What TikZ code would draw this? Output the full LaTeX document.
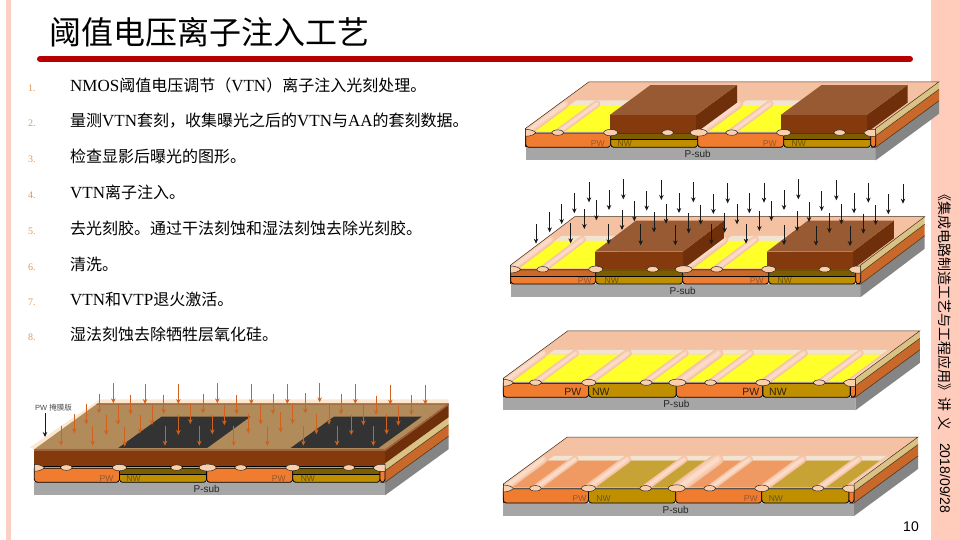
\documentclass[tikz,border=0pt]{standalone}
\usepackage{fontspec}
\setmainfont{Liberation Serif}
\newfontfamily\cjk{Noto Sans CJK SC}
\newfontfamily\sansf{Liberation Sans}
\usetikzlibrary{arrows.meta}
\definecolor{topF}{HTML}{F5C1A3}
\definecolor{bandF}{HTML}{F1E4D2}
\definecolor{stripeA}{HTML}{F5C1A3}
\definecolor{stripeM}{HTML}{F8CFB6}
\definecolor{stripeB}{HTML}{FBDCC8}
\definecolor{ovalF}{HTML}{FBCFAB}
\definecolor{yel}{HTML}{FFFF2A}
\definecolor{pwF}{HTML}{F07C30}
\definecolor{nwF}{HTML}{BF8F00}
\definecolor{pwT}{HTML}{EF9A62}
\definecolor{nwT}{HTML}{C7A335}
\definecolor{subF}{HTML}{A6A6A6}
\definecolor{subS}{HTML}{858585}
\definecolor{orS}{HTML}{C9682B}
\definecolor{tanS}{HTML}{D9C283}
\definecolor{resF}{HTML}{843A0C}
\definecolor{resT}{HTML}{985A33}
\definecolor{resS}{HTML}{6E2F0A}
\definecolor{maskT}{HTML}{B28B5A}
\definecolor{maskE}{HTML}{A0623C}
\definecolor{glass}{HTML}{FCE8D0}
\definecolor{ruleR}{HTML}{B80000}
\definecolor{side}{HTML}{FFCCBB}
\definecolor{leftbar}{HTML}{FBCFC3}
\definecolor{numC}{HTML}{E8954F}
\definecolor{arrO}{HTML}{D0621F}
\tikzset{
  wafer/.style n args={5}{shift={(#1,#2)},x={(#3pt,0pt)},y={(#4pt,#5pt)},z={(0pt,-1pt)}},
  edgeline/.style={draw=black!65!brown,line width=.5pt},
  ovalshape/.style={draw=black!85,fill=ovalF,line width=.5pt},
  bodytext/.style={anchor=base west,inner sep=0pt,font=\fontsize{17}{20}\selectfont},
  numtext/.style={anchor=base west,inner sep=0pt,text=numC,font=\fontsize{10}{11}\selectfont},
  wlabel/.style={inner sep=0pt,font=\sansf\fontsize{#1}{#1}\selectfont},
  ionB/.style={draw=black!90,line width=1pt,-{Stealth[length=5pt,width=4.5pt]}},
  ionO/.style={draw=arrO,line width=1pt,-{Stealth[length=5pt,width=4.5pt]}},
}
\newcommand\zh[1]{{\cjk\fontsize{16}{20}\selectfont #1}}
\newcommand\wbase{
  \fill[subF] (0,0,19)--(350,0,19)--(350,0,32)--(0,0,32)--cycle;
  \fill[subS] (350,0,19)--(350,1,19)--(350,1,32)--(350,0,32)--cycle;
  \fill[orS] (350,0,7.5)--(350,1,7.5)--(350,1,19)--(350,0,19)--cycle;
  \fill[tanS] (350,0,0)--(350,1,0)--(350,1,7.5)--(350,0,7.5)--cycle;
  \draw[edgeline] (350,0,7.5)--(350,1,7.5) (350,0,19)--(350,1,19);
}
\newcommand\wtop{
  \fill[topF] (0,0,4)--(0,0,0)--(0,1,0)--(350,1,0)--(350,0,0)--(350,0,4)--cycle;
}
\newcommand\wedges{
  \draw[edgeline] (0,0,0)--(0,1,0)--(350,1,0)--(350,0,0)--(350,0,19);
  \draw[edgeline] (0,0,0)--(0,0,19);
}
\newcommand\win[3]{\fill[#3] (#1,0,3.3)--(#2,0,3.3)--(#2,.57,3.3)--(#1,.57,3.3)--cycle;}
\newcommand\wband[2]{\fill[bandF] (#1,.57,3.3)--(#2,.57,3.3)--(#2,.67,3.3)--(#1,.67,3.3)--cycle;}
\newcommand\stripes[1]{
  \begin{scope}
  \clip (0,0,4)--(0,0,0)--(0,1,0)--(350,1,0)--(350,0,0)--(350,0,4)--cycle;
  \foreach \u/\w in {#1}{
    \draw[stripeA,line width=\w pt,line cap=round] (\u,0,4.3)--(\u,.62,4.3);
    \draw[stripeM,line width=.7*\w pt,line cap=round] (\u,0,4.3)--(\u,.62,4.3);
    \draw[stripeB,line width=.35*\w pt,line cap=round] (\u,0,4.3)--(\u,.62,4.3);
  }
  \end{scope}
}
\newcommand\well[5]{
  \fill[#3] (#1,0,4.8) {[rounded corners=3pt]-- (#1,0,19) -- (#2,0,19)} -- (#2,0,4.8) -- cycle;
  \fill[#4] (#1,0,4.8)--(#2,0,4.8)--(#2,0,11)--(#1,0,11)--cycle;
  \draw[draw=#5,line width=.7pt] (#1,0,11)--(#2,0,11);
  \draw[black,line width=.8pt] (#1,0,4.8) {[rounded corners=3pt]-- (#1,0,19) -- (#2,0,19)} -- (#2,0,4.8) -- cycle;
}
\newcommand\ovals{
  \draw[ovalshape] (0,0,1) .. controls (5,0,1) and (9,0,3) .. (10,0,4.3) .. controls (9,0,6) and (5,0,8) .. (0,0,8) -- cycle;
  \draw[ovalshape] (350,0,1) -- (345,0,1) .. controls (341,0,1.5) and (339,0,3) .. (338,0,4.3) .. controls (339,0,6) and (341,0,8) .. (345,0,8) -- (350,0,8) -- cycle;
  \foreach \u/\w/\h in {32/6/2.7,85/7/3.2,142/6/2.7,173/8.5/3.5,206/6/2.7,258/7/3.2,314/6/2.7}{
    \draw[ovalshape] (\u,0,4.3) ellipse [x radius=\w pt,y radius=\h pt];
  }
}
\newcommand\wellsPlain{
  \well{0}{85}{pwF}{pwF}{none}\well{85}{172}{nwF}{nwF}{none}
  \well{172}{258}{pwF}{pwF}{none}\well{258}{345}{nwF}{nwF}{none}\well{345}{350}{pwF}{pwF}{none}
}
\newcommand\wellsNW[3]{
  \well{0}{85}{pwF}{#2}{#3}\well{85}{172}{nwF}{#1}{black}
  \well{172}{258}{pwF}{#2}{#3}\well{258}{345}{nwF}{#1}{black}\well{345}{350}{pwF}{pwF}{none}
}
\newcommand\wlabels[8]{
  \node[wlabel=#6,text=#7] (lp1) at (#1,0,#5) {PW};
  \node[wlabel=#6,text=#8] (ln1) at (#2,0,#5) {NW};
  \node[wlabel=#6,text=#7] (lp2) at (#3,0,#5) {PW};
  \node[wlabel=#6,text=#8] (ln2) at (#4,0,#5) {NW};
  \node[wlabel=10,text=black!85] (ls) at (172,0,25.7) {P-sub};
}
\newcommand\resist[2]{
  \fill[resS] (#2,0,-13.3)--(#2,.645,-13.3)--(#2,.645,4.3)--(#2,0,4.3)--cycle;
  \fill[resF] (#1,0,-13.3)--(#2,0,-13.3)--(#2,0,4.3)--(#1,0,4.3)--cycle;
  \fill[resT] (#1,0,-13.3)--(#2,0,-13.3)--(#2,.645,-13.3)--(#1,.645,-13.3)--cycle;
}
\begin{document}
\begin{tikzpicture}[x=1pt,y=-1pt]
\useasboundingbox (0,0) rectangle (960,540);
\fill[white] (0,0) rectangle (960,540);
\fill[side] (931,0) rectangle (960,540);
\fill[leftbar] (6,0) rectangle (11,540);
% title
\node[anchor=base west,inner sep=0pt,font=\cjk\fontsize{32}{36}\selectfont] (title) at (49,45) {阈值电压离子注入工艺};
\draw[ruleR,line width=6pt,line cap=round] (40,59)--(910,59);
% list
\foreach \n/\y in {1/92,2/127,3/163,4/198,5/234,6/270,7/305,8/340}{
  \node[numtext] (n\n) at (28,\y) {\n.};
}
\node[bodytext] (t1) at (70,92) {NMOS\zh{阈值电压调节（}VTN\zh{）离子注入光刻处理。}};
\node[bodytext] (t2) at (70,127) {\zh{量测}VTN\zh{套刻，收集曝光之后的}VTN\zh{与}AA\zh{的套刻数据。}};
\node[bodytext] (t3) at (70,163) {\zh{检查显影后曝光的图形。}};
\node[bodytext] (t4) at (70,198) {VTN\zh{离子注入。}};
\node[bodytext] (t5) at (70,234) {\zh{去光刻胶。通过干法刻蚀和湿法刻蚀去除光刻胶。}};
\node[bodytext] (t6) at (70,270) {\zh{清洗。}};
\node[bodytext] (t7) at (70,305) {VTN\zh{和}VTP\zh{退火激活。}};
\node[bodytext] (t8) at (70,340) {\zh{湿法刻蚀去除牺牲层氧化硅。}};
% sidebar text
\node[rotate=-90,anchor=west,inner sep=0pt,font=\cjk\fontsize{14}{16}\selectfont] (sa) at (945,187) {《集成电路制造工艺与工程应用》};
\node[rotate=-90,anchor=west,inner sep=0pt,font=\cjk\fontsize{14}{16}\selectfont] (sb) at (945,397) {讲\hspace{5pt}义};
\node[rotate=-90,anchor=west,inner sep=0pt,font=\sansf\fontsize{14}{16}\selectfont] (sc) at (945,443) {2018/09/28};
\node[inner sep=0pt,font=\sansf\fontsize{14}{16}\selectfont] (page) at (911,527) {10};
% block 1
\begin{scope}[wafer={525.7}{128.3}{1}{63.3}{46.5}]
  \wbase\wtop
  \wband{8}{85}\wband{178}{258}
  \win{8}{85}{yel}\win{178}{258}{yel}
  \stripes{0/9,32/7,173/10,205/7}
  \wedges
  \wellsNW{nwF!65!black}{pwF}{none}
  \resist{84}{170.5}\resist{255}{341}
  \ovals
  \wlabels{72}{99}{244}{273}{15.7}{8.5}{pwF!55!black!90}{nwF!55!black}
\end{scope}
% block 2
\begin{scope}[wafer={510.7}{265}{1}{64}{48.3}]
  \wbase\wtop
  \wband{8}{85}\wband{178}{258}
  \win{8}{85}{yel}\win{178}{258}{yel}
  \stripes{0/9,32/7,173/10,205/7}
  \wedges
  \wellsNW{nwF!65!black}{pwF!85!black}{black}
  \resist{84}{172}\resist{256}{342}
  \ovals
  \wlabels{74}{101}{246}{274}{15.5}{8.5}{pwF!55!black!90}{nwF!55!black}
\end{scope}
\foreach \X/\A/\B in {267/337/397,370/327/388,484/330/390,580/337/397,683/340/400,792/338/398,895/328/388,1009/331/391,1105/338/398,1209/341/401,
223/370/430,327/360/420,440/362/422,537/369/429,640/372/432,748/370/430,852/360/420,965/363/423,1062/370/430,1165/373/433,
185/402/462,289/391/451,403/394/454,498/401/461,602/404/464,711/403/463,814/393/453,927/396/456,1024/403/463,1127/405/465,
149/427/487,253/417/477,366/420/480,462/427/487,566/430/490,674/428/488,778/423/483,891/424/484,988/429/489,1090/431/491,
108/461/521,212/460/520,326/463/523,422/462/526,526/465/526,634/461/523,738/461/521,852/465/525,948/467/527,1050/468/528}{
  \draw[ionB] ({500+\X/3},{70+\A/3}) -- ({500+\X/3},{70+\B/3});
}
% block 3
\begin{scope}[wafer={503.3}{378.3}{1.006}{64.5}{47.5}]
  \wbase\wtop
  \wband{8}{345}
  \win{8}{345}{yel}
  \stripes{0/9,32/7,84/8,141/7,174/10,206/7,259/8,315/7,345/8}
  \wedges
  \wellsPlain
  \ovals
  \wlabels{69}{97}{246}{273}{14}{10.5}{black!75!brown}{black!75!brown}
\end{scope}
% block 4
\begin{scope}[wafer={503.3}{484}{1.002}{64}{47}]
  \wbase\wtop
  \wband{8}{345}
  \win{8}{85}{pwT}\win{85}{172}{nwT}\win{172}{258}{pwT}\win{258}{345}{nwT}
  \stripes{0/9,32/7,84/8,141/7,174/12,206/7,259/8,315/7,345/8}
  \wedges
  \wellsPlain
  \ovals
  \wlabels{76}{100}{247}{272}{14.3}{8.5}{pwF!55!black!90}{nwF!30!black!80}
\end{scope}
% block 5
\fill[glass] (30,447.3)--(34.3,449.3)--(101.7,403.3)--(448.3,403.3)--(448.3,399.3)--(100,399.3)--cycle;
\begin{scope}[wafer={34.3}{463.3}{1.002}{63.5}{46}]
  \wbase
  \wellsNW{nwF!65!black}{pwF}{none}
  \fill[resS] (350,0,-14)--(350,1,-14)--(350,1,0)--(350,0,0)--cycle;
  \fill[resF] (0,0,-14)--(350,0,-14)--(350,0,3.5)--(0,0,3.5)--cycle;
  \fill[maskT] (0,0,-14)--(350,0,-14)--(350,1,-14)--(0,1,-14)--cycle;
  \fill[maskE] (0,0,-14)--(350,0,-14)--(350,0,-12)--(0,0,-12)--cycle;
  \fill[maskE] (350,0,-14)--(350,1,-14)--(350,1,-12)--(350,0,-12)--cycle;
  \fill[maskE] (0,1,-14)--(350,1,-14)--(350,.97,-14)--(0,.97,-14)--cycle;
  \fill[black!80] (82,.03,-14)--(170.7,.03,-14)--(170.7,.71,-14)--(82,.71,-14)--cycle;
  \fill[black!80] (254,.03,-14)--(341.7,.03,-14)--(341.7,.71,-14)--(254,.71,-14)--cycle;
  \draw[black,line width=.7pt] (0,0,3.5)--(350,0,3.5);
  \ovals
  \wlabels{72}{99}{244}{273}{15.5}{8.5}{pwF!55!black!90}{nwF!55!black}
\end{scope}
\foreach \X/\A/\B in {280/40/100,375/43/102,475/42/102,592/40/100,694/43/103,802/42/102,899/40/97,1006/42/102,1111/44/104,1216/44/104,
237/72/130,332/74/134,431/74/132,549/72/130,650/75/133,759/73/133,856/70/130,963/73/133,1068/77/135,1174/76/135,
199/103/163,294/105/165,396/105/165,511/102/162,613/106/166,722/104/164,818/102/162,927/104/164,1030/106/166,1135/107/167,
163/132/190,259/135/195,360/135/190,475/135/195,577/135/193,685/132/190,782/125/187,889/133/193,994/135/195,1100/133/193,
123/167/227,218/167/227,314/170/230,435/167/227,538/167/227,641/168/228,742/168/228,850/167/227,951/167/227,1060/168/228}{
  \draw[ionO] ({20+\X/3},{370+\A/3}) -- ({20+\X/3},{370+\B/3});
}
\node[anchor=west,inner sep=0pt,text=black!70,font=\sansf\fontsize{7.5}{9}\selectfont] (mask) at (35,408) {PW {\cjk 掩膜版}};
\coordinate (maskend) at (45,437);
\draw[ionB] (45,413) -- (maskend);
\end{tikzpicture}
\end{document}
